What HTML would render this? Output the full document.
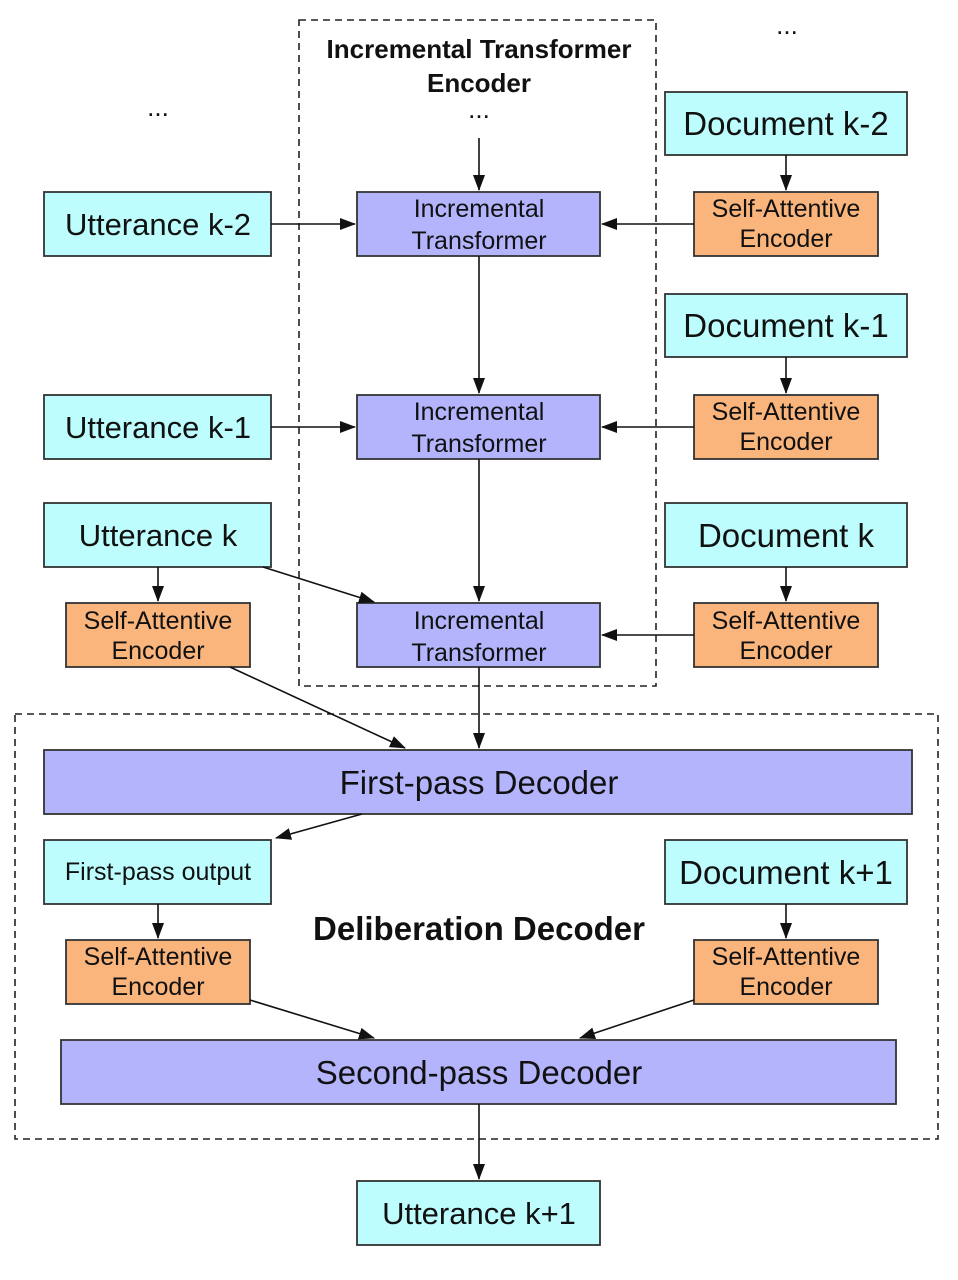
<!DOCTYPE html>
<html><head><meta charset="utf-8"><style>
html,body{margin:0;padding:0;background:#fff;}
svg{display:block;font-family:"Liberation Sans",sans-serif;}
</style></head><body>
<svg width="958" height="1280" viewBox="0 0 958 1280" xmlns="http://www.w3.org/2000/svg">
<defs><marker id="a" markerWidth="16" markerHeight="12" refX="15" refY="6" orient="auto" markerUnits="userSpaceOnUse"><path d="M0,0 L16,6 L0,12 z" fill="#111"/></marker></defs>
<g fill="none" stroke="#222" stroke-width="1.6" stroke-dasharray="7,5">
<rect x="299" y="20" width="357" height="666"/>
<rect x="15" y="714" width="923" height="425"/>
</g>
<g stroke="#333" stroke-width="1.8">
<g fill="#bdfdfd">
<rect x="44" y="192" width="227" height="64"/>
<rect x="44" y="395" width="227" height="64"/>
<rect x="44" y="503" width="227" height="64"/>
<rect x="665" y="92" width="242" height="63"/>
<rect x="665" y="294" width="242" height="63"/>
<rect x="665" y="503" width="242" height="64"/>
<rect x="44" y="840" width="227" height="64"/>
<rect x="665" y="840" width="242" height="64"/>
<rect x="357" y="1181" width="243" height="64"/>
</g>
<g fill="#fab57d">
<rect x="66" y="603" width="184" height="64"/>
<rect x="694" y="192" width="184" height="64"/>
<rect x="694" y="395" width="184" height="64"/>
<rect x="694" y="603" width="184" height="64"/>
<rect x="66" y="940" width="184" height="64"/>
<rect x="694" y="940" width="184" height="64"/>
</g>
<g fill="#b4b4fd">
<rect x="357" y="192" width="243" height="64"/>
<rect x="357" y="395" width="243" height="64"/>
<rect x="357" y="603" width="243" height="64"/>
<rect x="44" y="750" width="868" height="64"/>
<rect x="61" y="1040" width="835" height="64"/>
</g>
</g>
<g stroke="#111" stroke-width="1.6" marker-end="url(#a)">
<line x1="479" y1="138" x2="479" y2="190"/>
<line x1="479" y1="256" x2="479" y2="393"/>
<line x1="479" y1="459" x2="479" y2="601"/>
<line x1="479" y1="667" x2="479" y2="748"/>
<line x1="271" y1="224" x2="355" y2="224"/>
<line x1="271" y1="427" x2="355" y2="427"/>
<line x1="694" y1="224" x2="602" y2="224"/>
<line x1="694" y1="427" x2="602" y2="427"/>
<line x1="694" y1="635" x2="602" y2="635"/>
<line x1="786" y1="155" x2="786" y2="190"/>
<line x1="786" y1="357" x2="786" y2="393"/>
<line x1="786" y1="567" x2="786" y2="601"/>
<line x1="158" y1="567" x2="158" y2="601"/>
<line x1="263" y1="567" x2="374" y2="602"/>
<line x1="230" y1="667" x2="405" y2="748"/>
<line x1="362" y1="814" x2="276" y2="838"/>
<line x1="158" y1="904" x2="158" y2="938"/>
<line x1="786" y1="904" x2="786" y2="938"/>
<line x1="250" y1="1000" x2="374" y2="1038"/>
<line x1="694" y1="1000" x2="580" y2="1038"/>
<line x1="479" y1="1104" x2="479" y2="1179"/>
</g>
<g fill="#111" text-anchor="middle">
<text x="479" y="58" font-size="26" font-weight="bold">Incremental Transformer</text>
<text x="479" y="92" font-size="26" font-weight="bold">Encoder</text>
<text x="479" y="118" font-size="26">...</text>
<text x="158" y="116" font-size="26">...</text>
<text x="787" y="34" font-size="26">...</text>
<g font-size="31">
<text x="158" y="235">Utterance k-2</text>
<text x="158" y="438">Utterance k-1</text>
<text x="158" y="546">Utterance k</text>
<text x="479" y="1224">Utterance k+1</text>
</g>
<g font-size="33">
<text x="786" y="135">Document k-2</text>
<text x="786" y="337">Document k-1</text>
<text x="786" y="547">Document k</text>
<text x="786" y="884">Document k+1</text>
<text x="479" y="794">First-pass Decoder</text>
<text x="479" y="1084">Second-pass Decoder</text>
</g>
<g font-size="25">
<text x="479" y="217">Incremental</text><text x="479" y="249">Transformer</text>
<text x="479" y="420">Incremental</text><text x="479" y="452">Transformer</text>
<text x="479" y="629">Incremental</text><text x="479" y="661">Transformer</text>
<text x="786" y="217">Self-Attentive</text><text x="786" y="247">Encoder</text>
<text x="786" y="420">Self-Attentive</text><text x="786" y="450">Encoder</text>
<text x="786" y="629">Self-Attentive</text><text x="786" y="659">Encoder</text>
<text x="158" y="629">Self-Attentive</text><text x="158" y="659">Encoder</text>
<text x="158" y="965">Self-Attentive</text><text x="158" y="995">Encoder</text>
<text x="786" y="965">Self-Attentive</text><text x="786" y="995">Encoder</text>
<text x="158" y="880">First-pass output</text>
</g>
<text x="479" y="940" font-size="33" font-weight="bold">Deliberation Decoder</text>
</g>
</svg>
</body></html>
